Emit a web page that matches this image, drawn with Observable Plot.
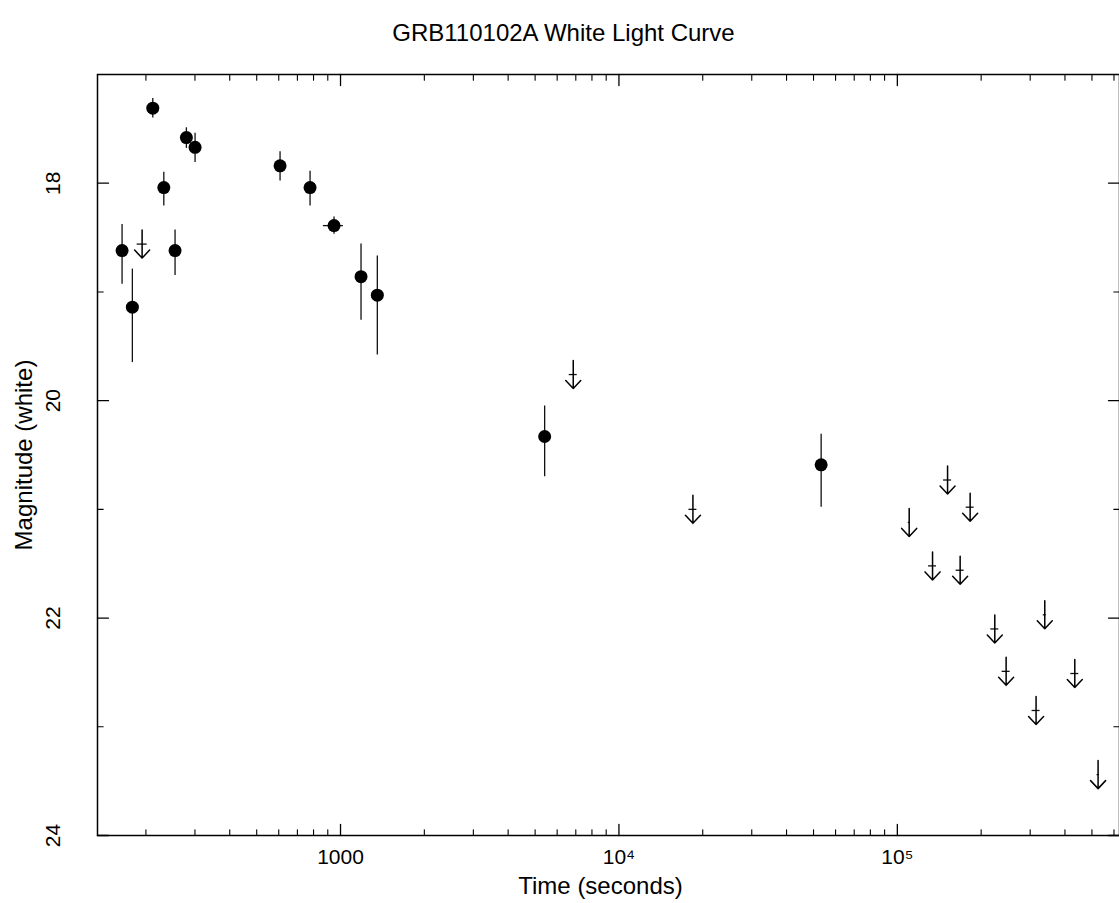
<!DOCTYPE html>
<html><head><meta charset="utf-8">
<script src="https://cdn.jsdelivr.net/npm/d3@7"></script>
<script src="https://cdn.jsdelivr.net/npm/@observablehq/plot@0.6"></script>
<style>
body{margin:0;background:#fff;font-family:"Liberation Sans",Arial,Helvetica,sans-serif;overflow:hidden}
#title{position:relative;width:1119px;height:60px}
#title span{position:absolute;left:4px;width:1119px;top:20px;line-height:26px;text-align:center;font-size:24px;color:#000}
</style></head><body>
<div id="title"><span>GRB110102A White Light Curve</span></div>
<div id="chart"></div>
<script>
// Detections (filled circles with error bars)
const detTime   = [164.2, 178.8, 211.7, 231.9, 254.5, 279.5, 300.3, 606.5, 777.3, 947.7, 1184.8, 1355.8, 5410, 53250];
const detTimeLo = [162, 177, 209.5, 229.5, 252, 276, 297, 600, 770, 868, 1175, 1345, 5370, 52900];
const detTimeHi = [166.5, 180.5, 214, 234.5, 257, 283, 303.5, 613, 785, 1024, 1195, 1367, 5450, 53600];
const detMag    = [18.62, 19.14, 17.31, 18.04, 18.62, 17.58, 17.67, 17.84, 18.04, 18.39, 18.86, 19.03, 20.33, 20.59];
const detMagLo  = [18.38, 18.79, 17.22, 17.90, 18.43, 17.49, 17.54, 17.71, 17.89, 18.31, 18.56, 18.67, 20.05, 20.31];
const detMagHi  = [18.93, 19.65, 17.40, 18.21, 18.85, 17.68, 17.81, 17.98, 18.21, 18.47, 19.26, 19.58, 20.70, 20.98];

// Upper limits (arrows)
const ulTime   = [193.8, 6853, 18440, 110300, 133800, 151500, 168100, 182600, 223900, 245900, 315000, 338500, 433900, 526100];
const ulTimeLo = [186, 6630, 17840, 109500, 129450, 146600, 162600, 176700, 216600, 237900, 304800, 334300, 419800, 521700];
const ulTimeHi = [202, 7083, 19060, 111100, 138300, 156600, 173700, 188700, 231400, 254200, 325600, 342700, 448500, 530500];
const ulMag    = [18.56, 19.76, 21.00, 21.12, 21.52, 20.73, 21.56, 20.98, 22.10, 22.49, 22.85, 21.97, 22.51, 23.44];

// Axes
const xMajor = [1000, 10000, 100000];
const xMajorLabels = ["1000", "10\u2074", "10\u2075"];
const xMinor = [200, 300, 400, 500, 600, 700, 800, 900,
                2000, 3000, 4000, 5000, 6000, 7000, 8000, 9000,
                20000, 30000, 40000, 50000, 60000, 70000, 80000, 90000,
                200000, 300000, 400000, 500000, 600000];
const yMajor = [18, 20, 22, 24];
const yMinor = [19, 21, 23];
const xLabel = "Time (seconds)";
const yLabel = "Magnitude (white)";

const dets = detTime.map((t, i) => ({t, tlo: detTimeLo[i], thi: detTimeHi[i], m: detMag[i], mlo: detMagLo[i], mhi: detMagHi[i]}));
const uls = ulTime.map((t, i) => ({t, tlo: ulTimeLo[i], thi: ulTimeHi[i], m: ulMag[i]}));

const lineShape = {draw(ctx, l) { ctx.moveTo(0, 0); ctx.lineTo(0, -l); }};
const arrowShape = {draw(ctx, l) {
  ctx.moveTo(0, 0); ctx.lineTo(0, -l);
  ctx.moveTo(-7.5, -l + 8); ctx.lineTo(0, -l); ctx.lineTo(7.5, -l + 8);
}};

const font = "Liberation Sans, Arial, sans-serif";
const fs = 21;
const fsLabel = 24;

const chart = Plot.plot({
  width: 1119,
  height: 843,
  marginLeft: 97,
  marginRight: 0,
  marginTop: 14,
  marginBottom: 68,
  style: {fontFamily: font, background: "white", color: "black", overflow: "visible"},
  x: {type: "log", domain: [134, 628000], axis: null},
  y: {domain: [17, 24], reverse: true, axis: null},
  marks: [
    // ticks: bottom/top
    Plot.vector(xMajor, {x: d => d, frameAnchor: "bottom", length: 11, anchor: "start", rotate: 0, shape: lineShape, strokeWidth: 1.3}),
    Plot.vector(xMinor, {x: d => d, frameAnchor: "bottom", length: 5.7, anchor: "start", rotate: 0, shape: lineShape, strokeWidth: 1.1}),
    Plot.vector(xMajor, {x: d => d, frameAnchor: "top", length: 11, anchor: "start", rotate: 180, shape: lineShape, strokeWidth: 1.3}),
    Plot.vector(xMinor, {x: d => d, frameAnchor: "top", length: 5.7, anchor: "start", rotate: 180, shape: lineShape, strokeWidth: 1.1}),
    // ticks: left/right
    Plot.vector(yMajor, {y: d => d, frameAnchor: "left", length: 11, anchor: "start", rotate: 90, shape: lineShape, strokeWidth: 1.3}),
    Plot.vector(yMinor, {y: d => d, frameAnchor: "left", length: 5.7, anchor: "start", rotate: 90, shape: lineShape, strokeWidth: 1.1}),
    Plot.vector(yMajor, {y: d => d, frameAnchor: "right", length: 11, anchor: "start", rotate: -90, shape: lineShape, strokeWidth: 1.3}),
    Plot.vector(yMinor, {y: d => d, frameAnchor: "right", length: 5.7, anchor: "start", rotate: -90, shape: lineShape, strokeWidth: 1.1}),
    // tick labels
    Plot.text(xMajor, {x: d => d, text: (d, i) => xMajorLabels[i], frameAnchor: "bottom", dy: 22, lineAnchor: "middle", fontSize: fs}),
    Plot.text(yMajor, {y: d => d, text: d => String(d), frameAnchor: "left", dx: -44, rotate: -90, lineAnchor: "middle", textAnchor: "middle", fontSize: fs}),
    // axis labels
    Plot.text([xLabel], {text: d => d, frameAnchor: "bottom", dx: -8, dy: 51, lineAnchor: "middle", fontSize: fsLabel}),
    Plot.text([yLabel], {text: d => d, frameAnchor: "left", dx: -73, rotate: -90, lineAnchor: "middle", textAnchor: "middle", fontSize: fsLabel}),
    // detections
    Plot.ruleX(dets, {x: "t", y1: "mlo", y2: "mhi", stroke: "#111", strokeWidth: 1.3}),
    Plot.ruleY(dets, {y: "m", x1: "tlo", x2: "thi", stroke: "#111", strokeWidth: 1.3}),
    Plot.dot(dets, {x: "t", y: "m", r: 6.5, fill: "black", stroke: "none"}),
    // upper limits
    Plot.ruleY(uls, {y: "m", x1: "tlo", x2: "thi", stroke: "#111", strokeWidth: 1.3}),
    Plot.vector(uls, {x: "t", y: "m", length: 28, anchor: "middle", rotate: 180, shape: arrowShape, stroke: "black", strokeWidth: 1.5}),
    Plot.frame({stroke: "black", strokeWidth: 1.5})
  ]
});
document.getElementById("chart").appendChild(chart);
</script>
</body></html>
